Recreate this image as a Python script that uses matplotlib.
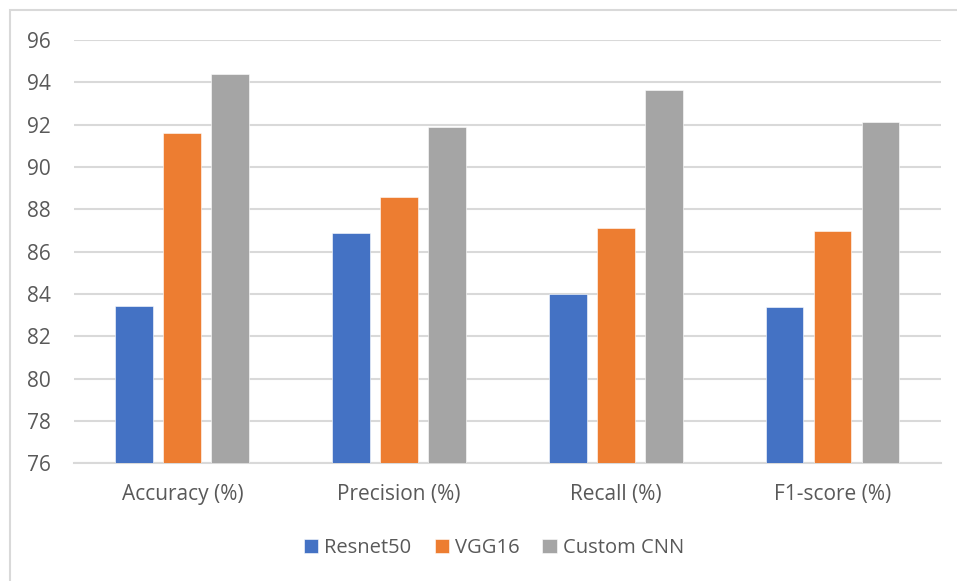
import matplotlib
matplotlib.use("Agg")
import matplotlib.pyplot as plt
from matplotlib.patches import Rectangle
import numpy as np

categories = ["Accuracy (%)", "Precision (%)", "Recall (%)", "F1-score (%)"]
series_names = ["Resnet50", "VGG16", "Custom CNN"]
resnet50 = [83.43, 86.86, 83.98, 83.40]
vgg16 = [91.59, 88.59, 87.10, 86.96]
custom_cnn = [94.39, 91.89, 93.65, 92.14]
y_ticks = [76, 78, 80, 82, 84, 86, 88, 90, 92, 94, 96]

colors = ["#4472C4", "#ED7D31", "#A5A5A5"]
text_color = "#595959"
grid_color = "#D9D9D9"

plt.rcParams["font.family"] = ["Open Sans", "DejaVu Sans"]

W, H = 957, 581
fig = plt.figure(figsize=(W / 100, H / 100), dpi=100)

# outer chart frame
fig.patches.append(Rectangle((10 / W, -0.1), 1.2, (H - 10) / H + 0.1,
                             transform=fig.transFigure, fill=False,
                             edgecolor=grid_color, linewidth=1.5))

ax = fig.add_axes([74 / W, 1 - 463.3 / H, (940.7 - 74) / W, (463.3 - 40) / H])

x = np.arange(len(categories))
width = 0.174
pitch = 0.2215
for i, (vals, name) in enumerate(zip([resnet50, vgg16, custom_cnn], series_names)):
    ax.bar(x + (i - 1) * pitch, vals, width=width, color=colors[i], label=name,
           edgecolor="white", linewidth=0.4, zorder=3)

ax.set_ylim(76, 96)
ax.set_xlim(-0.5, len(categories) - 0.5)
ax.set_yticks(y_ticks)
ax.set_xticks(x)
ax.set_xticklabels(categories)
ax.yaxis.grid(True, color=grid_color, linewidth=1.5, zorder=0)
ax.set_axisbelow(True)
for s in ["top", "right", "left"]:
    ax.spines[s].set_visible(False)
ax.spines["bottom"].set_color(grid_color)
ax.spines["bottom"].set_linewidth(1.5)
ax.tick_params(axis="both", length=0, colors=text_color, labelsize=15)
ax.tick_params(axis="y", pad=16.5)
ax.tick_params(axis="x", pad=15)

leg = fig.legend(loc="center", bbox_to_anchor=(494 / W, 1 - 548 / H), ncol=3,
                 frameon=False, fontsize=14.5, handlelength=0.7, handleheight=0.7,
                 handletextpad=0.3, columnspacing=1.15)
for t in leg.get_texts():
    t.set_color(text_color)

fig.savefig("out.png", dpi=100)
